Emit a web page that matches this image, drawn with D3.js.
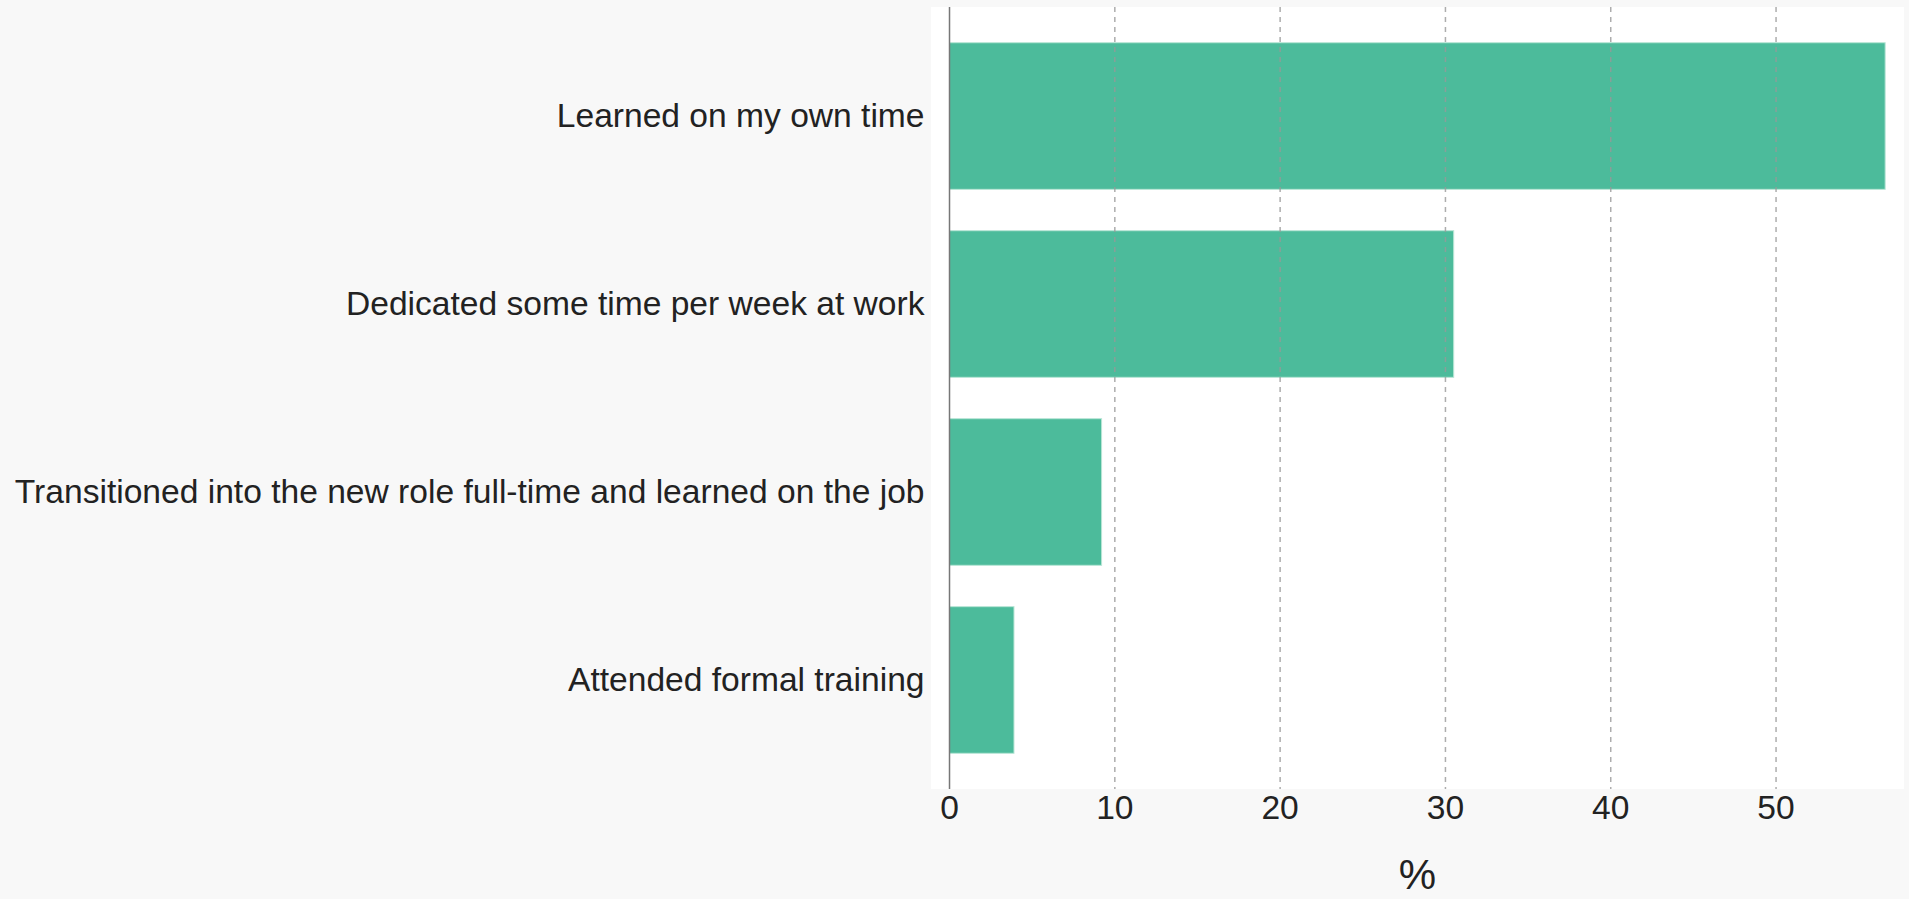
<!DOCTYPE html>
<meta charset="utf-8">
<style>
body { margin: 0; background: #f8f8f8; }
.label { font: 33.6px "Liberation Sans", Arial, sans-serif; fill: #222; }
.grid line { stroke: #999; stroke-width: 1.5px; stroke-dasharray: 5,5; opacity: 0.8; }
.bar { fill: #4cbb9b; stroke: #b9e6d6; stroke-width: 1px; }
</style>
<body>
<script src="https://d3js.org/d3.v7.min.js"></script>
<script>

// data
var categories = ["Learned on my own time",
                  "Dedicated some time per week at work",
                  "Transitioned into the new role full-time and learned on the job",
                  "Attended formal training"];
var values = [56.6, 30.5, 9.2, 3.9];
var ticks = [0, 10, 20, 30, 40, 50];

var W = 1909, H = 899;
var plot = {left: 931, right: 1904, top: 7, bottom: 789};

var x = d3.scaleLinear().domain([-1.12, 57.74]).range([plot.left, plot.right]);
var y = d3.scaleBand().domain(categories).range([plot.top, plot.bottom])
    .paddingInner(0.22).paddingOuter(0.19);

var svg = d3.select("body").append("svg")
    .attr("width", W).attr("height", H);

svg.append("rect")
    .attr("width", W).attr("height", H)
    .attr("fill", "#f8f8f8");

// plot background
svg.append("rect")
    .attr("x", plot.left).attr("y", plot.top)
    .attr("width", plot.right - plot.left)
    .attr("height", plot.bottom - plot.top)
    .attr("fill", "#fff");

// bars
svg.selectAll(".bar")
    .data(values)
  .enter().append("rect")
    .attr("class", "bar")
    .attr("x", x(0))
    .attr("y", function(d, i) { return y(categories[i]); })
    .attr("width", function(d) { return x(d) - x(0); })
    .attr("height", y.bandwidth());

// gridlines (drawn over the bars)
svg.append("g")
    .attr("class", "grid")
    .selectAll("line")
    .data(ticks.filter(function(t) { return t > 0; }))
  .enter().append("line")
    .attr("x1", function(d) { return x(d); })
    .attr("x2", function(d) { return x(d); })
    .attr("y1", plot.top)
    .attr("y2", plot.bottom);

// zero line
svg.append("line")
    .attr("x1", x(0)).attr("x2", x(0))
    .attr("y1", plot.top).attr("y2", plot.bottom)
    .attr("stroke", "#777")
    .attr("stroke-width", 1.5);

// x tick labels
svg.append("g")
    .selectAll("text")
    .data(ticks)
  .enter().append("text")
    .attr("class", "label")
    .attr("x", function(d) { return x(d); })
    .attr("y", plot.bottom + 30)
    .attr("text-anchor", "middle")
    .text(function(d) { return d; });

// category labels
svg.append("g")
    .selectAll("text")
    .data(categories)
  .enter().append("text")
    .attr("class", "label")
    .attr("x", x(0) - 25)
    .attr("y", function(d) { return y(d) + y.bandwidth() / 2; })
    .attr("dy", "0.32em")
    .attr("text-anchor", "end")
    .text(function(d) { return d; });

// axis title
svg.append("text")
    .attr("class", "label")
    .attr("x", (plot.left + plot.right) / 2)
    .attr("y", 889)
    .attr("text-anchor", "middle")
    .style("font-size", "42px")
    .text("%");

</script>
</body>
